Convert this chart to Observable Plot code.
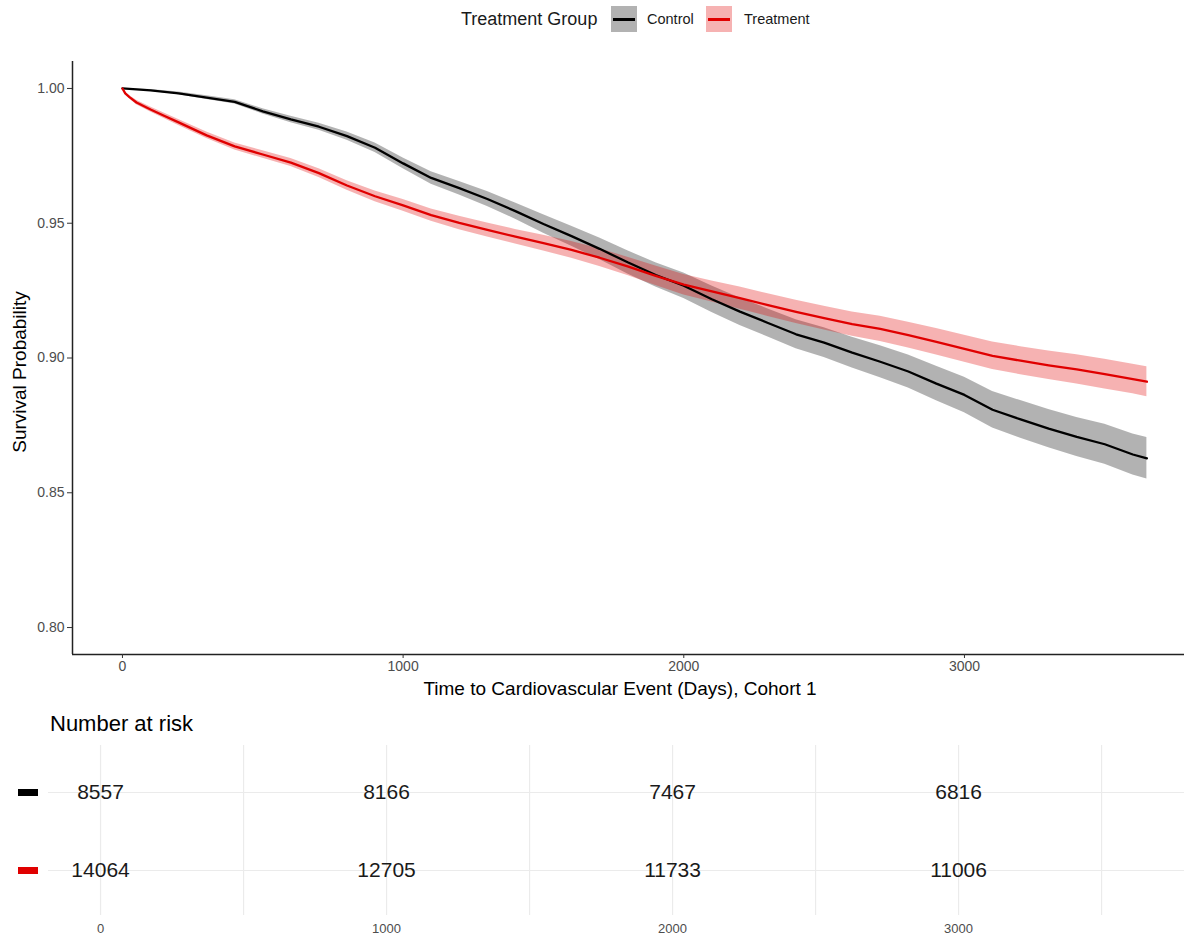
<!DOCTYPE html>
<html>
<head>
<meta charset="utf-8">
<script src="https://cdn.jsdelivr.net/npm/d3@7"></script>
<script src="https://cdn.jsdelivr.net/npm/@observablehq/plot@0.6"></script>
<style>
  body { margin: 0; background: #fff; font-family: "Liberation Sans", Arial, sans-serif; }
  #wrap { position: relative; width: 1184px; height: 939px; overflow: hidden; background: #fff; }
  #legend { position: absolute; top: 6px; left: 0; width: 1184px; height: 26px; }
  #legend .t { position: absolute; top: 0; line-height: 26px; white-space: nowrap; color: #1a1a1a; }
  #legend .key { position: absolute; top: 0; width: 26px; height: 26px; }
  #legend .key span { position: absolute; left: 2px; right: 2px; top: 12px; height: 2.5px; }
  #main { position: absolute; top: 40px; left: 0; }
  #risk { position: absolute; top: 740px; left: 0; }
  #ytitle { position: absolute; left: 20px; top: 372px; transform: translate(-50%, -50%) rotate(-90deg); white-space: nowrap; font-size: 19px; color: #000; }
  #xtitle { position: absolute; left: 620px; top: 689px; transform: translate(-50%, -50%); white-space: nowrap; font-size: 19px; color: #000; }
  #risktitle { position: absolute; left: 50px; top: 713px; font-size: 22px; line-height: 22px; color: #000; white-space: nowrap; }
</style>
</head>
<body>
<div id="wrap">
  <div id="legend"></div>
  <div id="main"></div>
  <div id="ytitle"></div>
  <div id="xtitle"></div>
  <div id="risktitle"></div>
  <div id="risk"></div>
</div>
<script>
// ---------------- data ----------------
const groups = ["Control", "Treatment"];
const groupColors = ["#000000", "#e00000"];
const legendTitle = "Treatment Group";
const yTitle = "Survival Probability";
const xTitle = "Time to Cardiovascular Event (Days), Cohort 1";
const riskTitle = "Number at risk";

const xTicks = [0, 1000, 2000, 3000];
const yTicks = [0.80, 0.85, 0.90, 0.95, 1.00];

const controlDays = [0,100,200,300,400,500,600,700,800,900,1000,1100,1200,1300,1400,1500,1600,1700,1800,1900,2000,2100,2200,2300,2400,2500,2600,2700,2800,2900,3000,3100,3200,3300,3400,3500,3600,3650];
const controlSurv = [1.0000,0.9993,0.9982,0.9966,0.9950,0.9915,0.9885,0.9858,0.9823,0.9780,0.9722,0.9668,0.9630,0.9590,0.9545,0.9497,0.9452,0.9405,0.9355,0.9308,0.9268,0.9218,0.9172,0.9130,0.9088,0.9057,0.9020,0.8986,0.8950,0.8905,0.8863,0.8808,0.8772,0.8738,0.8707,0.8680,0.8642,0.8628];
const controlCI = [0,0.0003,0.0005,0.0007,0.0008,0.0010,0.0012,0.0013,0.0015,0.0018,0.0020,0.0023,0.0025,0.0028,0.0030,0.0034,0.0037,0.0040,0.0043,0.0045,0.0047,0.0049,0.0051,0.0052,0.0054,0.0055,0.0057,0.0059,0.0061,0.0064,0.0066,0.0068,0.0070,0.0071,0.0072,0.0074,0.0076,0.0077];

const treatmentDays = [0,10,25,50,100,150,200,300,400,500,600,700,800,900,1000,1100,1200,1300,1400,1500,1600,1700,1800,1900,2000,2100,2200,2300,2400,2500,2600,2700,2800,2900,3000,3100,3200,3300,3400,3500,3600,3650];
const treatmentSurv = [1.0000,0.9982,0.9968,0.9948,0.9922,0.9898,0.9874,0.9826,0.9785,0.9755,0.9725,0.9686,0.9640,0.9600,0.9566,0.9530,0.9501,0.9475,0.9450,0.9426,0.9401,0.9372,0.9340,0.9305,0.9272,0.9247,0.9222,0.9196,0.9171,0.9148,0.9126,0.9108,0.9085,0.9060,0.9034,0.9008,0.8990,0.8973,0.8958,0.8940,0.8922,0.8912];
const treatmentCI = [0,0.0004,0.0006,0.0008,0.0009,0.0010,0.0011,0.0012,0.0013,0.0014,0.0015,0.0016,0.0018,0.0020,0.0022,0.0023,0.0025,0.0026,0.0027,0.0029,0.0031,0.0033,0.0034,0.0036,0.0038,0.0039,0.0041,0.0042,0.0043,0.0044,0.0045,0.0047,0.0048,0.0049,0.0050,0.0051,0.0052,0.0053,0.0054,0.0055,0.0055,0.0056];

const riskTimes = [0, 1000, 2000, 3000];
const riskControl = [8557, 8166, 7467, 6816];
const riskTreatment = [14064, 12705, 11733, 11006];
const riskGrid = [0, 500, 1000, 1500, 2000, 2500, 3000, 3500];

// ---------------- build tables ----------------
const curves = [];
controlDays.forEach((t, i) => curves.push({group: "Control", time: t, surv: controlSurv[i], lo: controlSurv[i] - controlCI[i], hi: controlSurv[i] + controlCI[i]}));
treatmentDays.forEach((t, i) => curves.push({group: "Treatment", time: t, surv: treatmentSurv[i], lo: treatmentSurv[i] - treatmentCI[i], hi: treatmentSurv[i] + treatmentCI[i]}));

const risk = [];
riskTimes.forEach((t, i) => {
  risk.push({group: "Control", time: t, n: String(riskControl[i])});
  risk.push({group: "Treatment", time: t, n: String(riskTreatment[i])});
});

const font = "Liberation Sans, Arial, sans-serif";
const xDomain = [-178, 3784];
const yDomain = [0.79, 1.01];
const intFmt = d3.format("d");

// ---------------- main chart ----------------
const main = Plot.plot({
  width: 1184, height: 674,
  marginTop: 21, marginLeft: 72, marginRight: 0, marginBottom: 60,
  style: {fontFamily: font, fontSize: "14px", color: "#4d4d4d", background: "transparent", overflow: "visible"},
  x: {domain: xDomain},
  y: {domain: yDomain},
  color: {domain: groups, range: groupColors},
  marks: [
    Plot.areaY(curves, {x: "time", y1: "lo", y2: "hi", z: "group", fill: "group", fillOpacity: 0.3}),
    Plot.lineY(curves, {x: "time", y: "surv", z: "group", stroke: "group", strokeWidth: 2.3}),
    Plot.ruleX([xDomain[0]], {stroke: "#222", strokeWidth: 1.5}),
    Plot.ruleY([yDomain[0]], {stroke: "#222", strokeWidth: 1.5}),
    Plot.axisX(xTicks, {tickSize: 4, tickPadding: 3, stroke: "#333", fill: "#4d4d4d", fontSize: 14, tickFormat: intFmt, label: null}),
    Plot.axisY(yTicks, {tickSize: 5, tickPadding: 3, stroke: "#333", fill: "#4d4d4d", fontSize: 14, tickFormat: d3.format(".2f"), label: null})
  ]
});
document.getElementById("main").appendChild(main);

// ---------------- risk table ----------------
const riskPlot = Plot.plot({
  width: 1184, height: 199,
  marginTop: 5, marginBottom: 24, marginLeft: 48, marginRight: 0,
  style: {fontFamily: font, fontSize: "14px", color: "#4d4d4d", background: "transparent", overflow: "visible"},
  x: {domain: [-182, 3790]},
  y: {type: "point", domain: groups, range: [52, 130], padding: 0},
  color: {domain: groups, range: groupColors},
  marks: [
    Plot.gridX(riskGrid, {stroke: "#ebebeb", strokeOpacity: 1, strokeWidth: 1.2}),
    Plot.gridY(groups, {stroke: "#ebebeb", strokeOpacity: 1, strokeWidth: 1.2}),
    Plot.text(risk, {x: "time", y: "group", text: "n", fontSize: 21, fill: "#1a1a1a"}),
    Plot.axisX(riskTimes, {tickSize: 0, tickPadding: 8, fill: "#4d4d4d", fontSize: 13, tickFormat: intFmt, label: null}),
    Plot.axisY([groups[0]], {tickSize: 20, dx: -10, stroke: groupColors[0], strokeWidth: 7, tickFormat: () => "", label: null}),
    Plot.axisY([groups[1]], {tickSize: 20, dx: -10, stroke: groupColors[1], strokeWidth: 7, tickFormat: () => "", label: null})
  ]
});
document.getElementById("risk").appendChild(riskPlot);

// ---------------- text & legend ----------------
document.getElementById("ytitle").textContent = yTitle;
document.getElementById("xtitle").textContent = xTitle;
document.getElementById("risktitle").textContent = riskTitle;

const legend = document.getElementById("legend");
const lt = document.createElement("div");
lt.className = "t"; lt.style.left = "461px"; lt.style.fontSize = "18px"; lt.textContent = legendTitle;
legend.appendChild(lt);
const keyLefts = [611, 706];
const labelLefts = [647, 744];
groups.forEach((g, i) => {
  const k = document.createElement("div");
  k.className = "key"; k.style.left = keyLefts[i] + "px";
  k.style.background = d3.color(groupColors[i]).copy({opacity: 0.3}).formatRgb();
  const s = document.createElement("span"); s.style.background = groupColors[i];
  k.appendChild(s); legend.appendChild(k);
  const l = document.createElement("div");
  l.className = "t"; l.style.left = labelLefts[i] + "px"; l.style.fontSize = "14.5px"; l.textContent = g;
  legend.appendChild(l);
});
</script>
</body>
</html>
